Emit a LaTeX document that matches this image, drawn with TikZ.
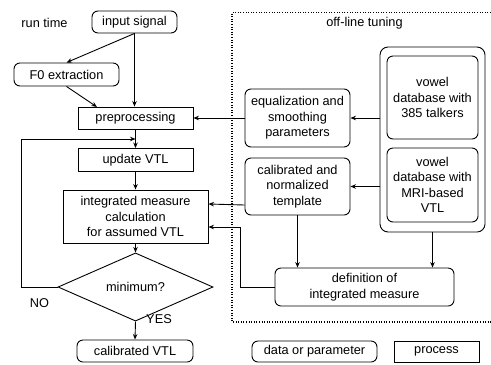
\documentclass[tikz,border=0pt]{standalone}
\usepackage{fontspec}
\setmainfont{Liberation Sans}
\usetikzlibrary{shapes.geometric,arrows.meta,calc}

\tikzset{
  base/.style={draw, line width=0.9bp, align=center, inner sep=0pt,
    font=\fontsize{12.8}{15.5}\selectfont},
  data/.style={base, rounded corners=6bp},
  proc/.style={base},
  lbl/.style={inner sep=0pt, font=\fontsize{12.8}{15.5}\selectfont},
  arr/.style={line width=0.9bp, -{Stealth[length=5.5bp,width=4.5bp]}},
  ln/.style={line width=0.9bp},
  dots/.style={line width=1.1bp, dash pattern=on 1.1bp off 1.5bp},
}

\begin{document}
\begin{tikzpicture}[x=1bp, y=-1bp]
\useasboundingbox (0,0) rectangle (491,364);

% run-time side
\node[lbl] (rt) at (44.5,23) {run time};
\node[data, minimum width=85bp, minimum height=22bp] (input) at (134.5,22) {input signal};
\node[data, minimum width=105bp, minimum height=23bp] (f0) at (66.5,74.5) {F0 extraction};
\node[proc, minimum width=115bp, minimum height=22bp] (pre) at (135.5,118) {preprocessing};
\node[proc, minimum width=115bp, minimum height=23bp] (upd) at (135.5,160) {update VTL};
\node[proc, minimum width=145bp, minimum height=53bp] (integ) at (135.5,216.5)
  {integrated measure\\calculation\\for assumed VTL};
\node[base, diamond, minimum width=155bp, minimum height=50bp] (dia) at (135.5,287) {minimum?};
\node[data, minimum width=116bp, minimum height=22bp] (calib) at (135,351) {calibrated VTL};
\node[lbl] (no) at (39.5,303) {NO};
\node[lbl] (yes) at (159,319) {YES};

% off-line side
\node[lbl] (off) at (364.5,23) {off-line tuning};
\draw[dots] (491,12.5) -- (232,12.5) -- (232,322) -- (491,322);
\node[data, rounded corners=8bp, minimum width=105bp, minimum height=185bp] (outer) at (432.5,139.5) {};
\node[data, minimum width=91bp, minimum height=83bp] (db1) at (432.5,97.5)
  {vowel\\database with\\385 talkers};
\node[data, minimum width=91bp, minimum height=74bp] (db2) at (432.5,185)
  {vowel\\database with\\MRI-based\\VTL};
\node[data, minimum width=105bp, minimum height=58bp] (eq) at (297.5,118)
  {equalization and\\smoothing\\parameters};
\node[data, minimum width=105bp, minimum height=57bp] (tmpl) at (297.5,186.5)
  {calibrated and\\normalized\\template};
\node[data, minimum width=179bp, minimum height=38bp] (def) at (364.5,287)
  {definition of\\integrated measure};

% legend
\node[data, minimum width=125bp, minimum height=21bp] (legd) at (314.5,351.5) {data or parameter};
\node[proc, minimum width=85bp, minimum height=21bp] (legp) at (436.5,351.5) {process};

% run-time connectors
\coordinate (preIn) at (97,107);
\coordinate (loopIn) at (135.5,139);
\draw[arr] (input.south) -- (input.south |- pre.north);
\draw[arr] (input.south) -- (f0.north);
\draw[arr] (f0.south) -- (preIn);
\draw[arr] (pre.south) -- (upd.north);
\draw[arr] (dia.west) -- (21,287) |- (loopIn);
\draw[arr] (upd.south) -- (integ.north);
\draw[arr] (integ.south) -- (dia.north);
\draw[arr] (dia.south) -- (calib.north);

% off-line connectors
\draw[arr] (outer.west |- eq.east) -- (eq.east);
\draw[arr] (eq.west) -- (pre.east);
\draw[arr] (outer.west |- tmpl.east) -- (tmpl.east);
\draw[arr] ($(tmpl.west)+(0,18.5)$) -- ($(integ.east)+(0,-12.5)$);
\draw[arr] (def.west) -- (240.5,287) |- ($(integ.east)+(0,10.5)$);
\draw[arr] (tmpl.south) -- (tmpl.south |- def.north);
\draw[arr] (outer.south) -- (outer.south |- def.north);
\end{tikzpicture}
\end{document}
